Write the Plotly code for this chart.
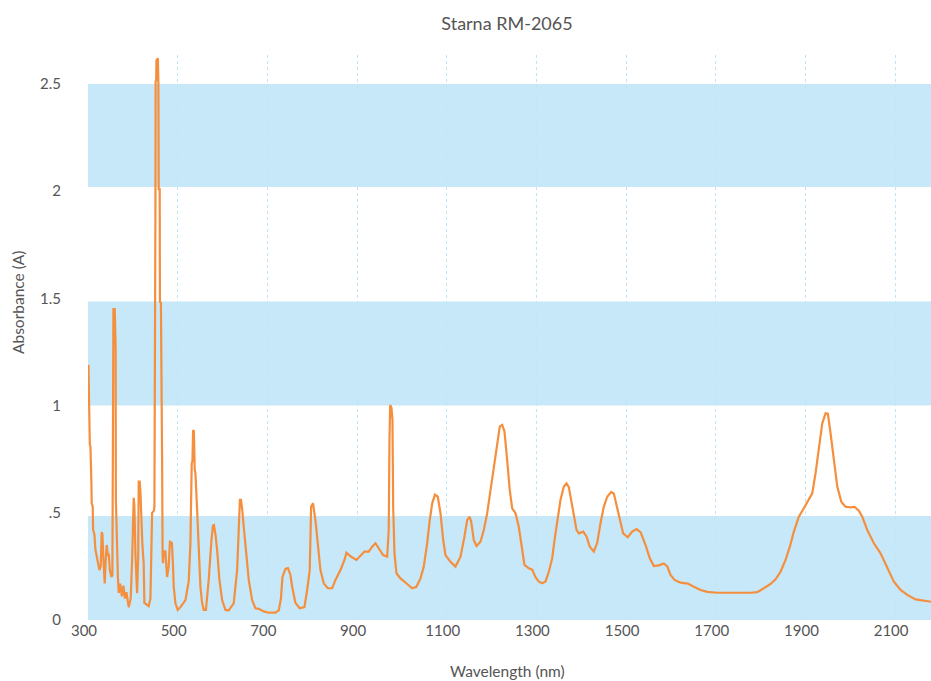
import plotly.graph_objects as go

wavelength = [301, 302, 303, 304, 305.4, 306, 307.6, 308.3, 310.5, 311.4, 314.3, 316.5, 319.9, 322, 325.4,
              328.3, 330.6, 332.1, 334.4, 337.3, 339.5, 341.7, 344.4, 346.2, 348.9, 352.2, 354.4, 355.5,
              356.7, 359.6, 360.4, 361.6, 362.2, 364.5, 366.7, 368.5, 371.8, 375.6, 379, 382.3, 385.7,
              390.8, 395.2, 398.4, 400.6, 401.9, 403.5, 405.7, 409.5, 412, 413.1, 415.3, 416.9, 418.4,
              421.3, 424.2, 425.8, 435.4, 439.2, 443, 447, 448.1, 448.8, 450.3, 450.8, 452.1, 452.6,
              455.9, 457, 457.7, 459.9, 460.4, 462.6, 463.7, 465.3, 466.4, 467.3, 468.9, 472.6, 476.4,
              480, 482.7, 487.1, 489.4, 491.2, 495, 500.1, 506.1, 517.3, 524.6, 528.4, 531.3, 532.9,
              534.4, 536.2, 538, 539.6, 543.4, 546.9, 550.7, 554.5, 558.1, 563, 569.2, 575.3, 578.6,
              580.8, 584.2, 588, 593.1, 599.1, 606.5, 613.8, 625, 632.6, 636.2, 638.8, 641.1, 643.7,
              647.3, 652.7, 658.5, 666, 673.4, 680.8, 691.9, 703.1, 718, 725.4, 730.3, 733.6, 740.3,
              745.9, 751.5, 755.3, 762.6, 772.2, 782.7, 788.7, 794.5, 797.6, 801.7, 807.2, 812.4,
              818.4, 825.8, 834.7, 844.5, 851.9, 863, 872, 876.4, 886.9, 898.7, 907.6, 916.5, 926.1,
              933.7, 941.1, 948.4, 958.2, 967.2, 970.7, 972.3, 973.9, 976.8, 979, 980.6, 983.5, 987.9,
              996.8, 1011.8, 1022.9, 1032.5, 1041.5, 1048.8, 1056.4, 1062.2, 1067.6, 1073.8, 1080,
              1086.1, 1092.1, 1097.2, 1108.4, 1119.5, 1130.7, 1139.6, 1145.6, 1150.7, 1154.5, 1160.3,
              1166.4, 1175.3, 1182.7, 1190.2, 1197.6, 1205, 1212.5, 1218.3, 1223.7, 1228.8, 1234.8,
              1240.6, 1246, 1253.4, 1260.7, 1268.3, 1273.4, 1283, 1290.6, 1298, 1305.3, 1312.9, 1320.3,
              1327.7, 1335.2, 1340.4, 1346.4, 1353.7, 1361.1, 1367.1, 1372.3, 1377.6, 1383.4, 1389.4,
              1394.5, 1404.4, 1411.7, 1419.1, 1428, 1435.6, 1442.9, 1450.3, 1457.9, 1466.8, 1472.6,
              1479.7, 1486, 1493.5, 1503.8, 1513.7, 1523.3, 1532.2, 1543.3, 1552.9, 1561.9, 1573,
              1584.2, 1591.8, 1599.1, 1608.1, 1621.4, 1637.7, 1651.1, 1666, 1680.9, 1703.3, 1777.6,
              1792.5, 1807.2, 1822.2, 1833.3, 1844.5, 1855.6, 1865.2, 1874.1, 1885.3, 1896.4, 1907.6,
              1915.2, 1922.5, 1929.9, 1937.5, 1944.9, 1950, 1956, 1963.4, 1971, 1979.9, 1989.4, 2000.6,
              2009.5, 2019.1, 2026.7, 2037.8, 2052.6, 2067.5, 2082.5, 2097.2, 2112.1, 2127.1, 2145.6,
              2164.1, 2180]

absorbance = [1.19, 0.995, 0.99, 0.82, 0.81, 0.65, 0.64, 0.545, 0.53, 0.42, 0.40, 0.33, 0.30, 0.27, 0.233,
              0.25, 0.41, 0.40, 0.28, 0.17, 0.28, 0.35, 0.30, 0.31, 0.23, 0.20, 0.21, 0.58,
              1.45, 1.45, 1.28, 1.27, 0.56, 0.30, 0.20, 0.126, 0.17, 0.11, 0.16, 0.10, 0.13,
              0.06, 0.10, 0.28, 0.50, 0.57, 0.53, 0.31, 0.125, 0.30, 0.645, 0.645, 0.60, 0.50,
              0.35, 0.265, 0.08, 0.065, 0.10, 0.50, 0.51, 0.53, 1.87, 1.87, 2.51, 2.52, 2.61,
              2.62, 2.50, 2.01, 2.01, 1.484, 1.48, 0.755, 0.74, 0.30, 0.265, 0.32, 0.32, 0.20,
              0.25, 0.365, 0.36, 0.26, 0.155, 0.078, 0.047, 0.06, 0.093, 0.18, 0.358, 0.73, 0.74,
              0.886, 0.88, 0.70, 0.685, 0.513, 0.326, 0.155, 0.08, 0.047, 0.047, 0.187, 0.373, 0.44,
              0.443, 0.40, 0.326, 0.187, 0.093, 0.047, 0.045, 0.078, 0.233, 0.466, 0.56, 0.56, 0.52,
              0.435, 0.31, 0.187, 0.093, 0.055, 0.052, 0.04, 0.034, 0.034, 0.045, 0.10, 0.20, 0.238,
              0.242, 0.21, 0.155, 0.08, 0.055, 0.06, 0.14, 0.233, 0.528, 0.545, 0.466, 0.342,
              0.233, 0.171, 0.148, 0.148, 0.187, 0.233, 0.28, 0.314, 0.295, 0.28, 0.30, 0.319, 0.319,
              0.342, 0.358, 0.335, 0.303, 0.295, 0.42, 0.84, 1.003, 0.99, 0.933, 0.528, 0.311, 0.218,
              0.194, 0.168, 0.148, 0.155, 0.194, 0.249, 0.358, 0.466, 0.544, 0.585, 0.575,
              0.498, 0.373, 0.303, 0.272, 0.249, 0.295, 0.389, 0.466, 0.482, 0.46, 0.373,
              0.345, 0.365, 0.42, 0.498, 0.606, 0.731, 0.84, 0.902, 0.91, 0.88, 0.746,
              0.606, 0.521, 0.498, 0.435, 0.326, 0.257, 0.241, 0.235, 0.20, 0.179, 0.171, 0.18,
              0.225, 0.288, 0.373, 0.466, 0.56, 0.622, 0.637, 0.62, 0.552, 0.482, 0.42,
              0.404, 0.412, 0.39, 0.342, 0.319, 0.36, 0.451, 0.528, 0.575, 0.597, 0.59,
              0.53, 0.466, 0.404, 0.386, 0.412, 0.424, 0.41, 0.35, 0.288, 0.252, 0.255,
              0.264, 0.25, 0.21, 0.187, 0.174, 0.17, 0.155, 0.14, 0.131, 0.127, 0.127,
              0.13, 0.148, 0.168, 0.19, 0.225, 0.28, 0.342, 0.412, 0.482, 0.521, 0.56,
              0.591, 0.684, 0.808, 0.917, 0.964, 0.962, 0.871, 0.746, 0.622, 0.552, 0.528, 0.525,
              0.528, 0.51, 0.482, 0.42, 0.358, 0.311, 0.241, 0.179, 0.14, 0.117, 0.096,
              0.09, 0.085]

band_ranges = [(0, 0.485), (1.0, 1.485), (2.02, 2.5)]
y_tick_vals = [0, 0.5, 1, 1.5, 2, 2.5]
y_tick_text = ["0", ".5", "1", "1.5", "2", "2.5"]
x_tick_vals = [300, 500, 700, 900, 1100, 1300, 1500, 1700, 1900, 2100]

FONT = "Lato"
TXT = "#555555"
W, H = 931, 681

fig = go.Figure()
fig.add_trace(go.Scatter(x=wavelength, y=absorbance, mode="lines",
                         line=dict(color="#f58f3d", width=2.2), hoverinfo="x+y",
                         showlegend=False))

for y0, y1 in band_ranges:
    fig.add_shape(type="rect", xref="paper", yref="y", x0=0, x1=1, y0=y0, y1=y1,
                  fillcolor="#c6e8f8", line=dict(width=0), layer="below")

fig.update_layout(
    width=W, height=H,
    margin=dict(l=88, r=0, t=55, b=61),
    paper_bgcolor="white", plot_bgcolor="white",
    font=dict(family=FONT, color=TXT, size=15),
    title=dict(text="Starna RM-2065", x=507 / W, xanchor="center", xref="container",
               y=1 - 24 / H, yanchor="middle", yref="container",
               font=dict(size=18, color=TXT, family=FONT)),
    annotations=[
        dict(text="Absorbance (A)", xref="paper", yref="paper", x=(18 - 88) / 843,
             y=(620 - 302) / 565, textangle=-90, showarrow=False, xanchor="center",
             yanchor="middle", font=dict(size=15.5, color=TXT, family=FONT)),
        dict(text="Wavelength (nm)", xref="paper", yref="paper", x=(507 - 88) / 843,
             y=(620 - 671) / 565, showarrow=False, xanchor="center", yanchor="middle",
             font=dict(size=15.5, color=TXT, family=FONT)),
    ],
)
fig.update_xaxes(range=[300, 2180], tickvals=x_tick_vals, showgrid=True, gridcolor="#bfe6f7",
                 griddash="dot", gridwidth=1, zeroline=False, showline=False, ticks="",
                 ticklabelshift=-4, tickfont=dict(size=15, color=TXT, family=FONT))
fig.update_yaxes(range=[0, 565 / 214.4], tickvals=y_tick_vals, ticktext=y_tick_text,
                 showgrid=False, zeroline=False, showline=False, ticks="",
                 ticklabelstandoff=26, tickfont=dict(size=15, color=TXT, family=FONT))

fig.write_html(
    "out.html",
    config={"displayModeBar": False},
    post_script="document.body.style.margin='0';document.body.style.overflow='hidden';",
)
